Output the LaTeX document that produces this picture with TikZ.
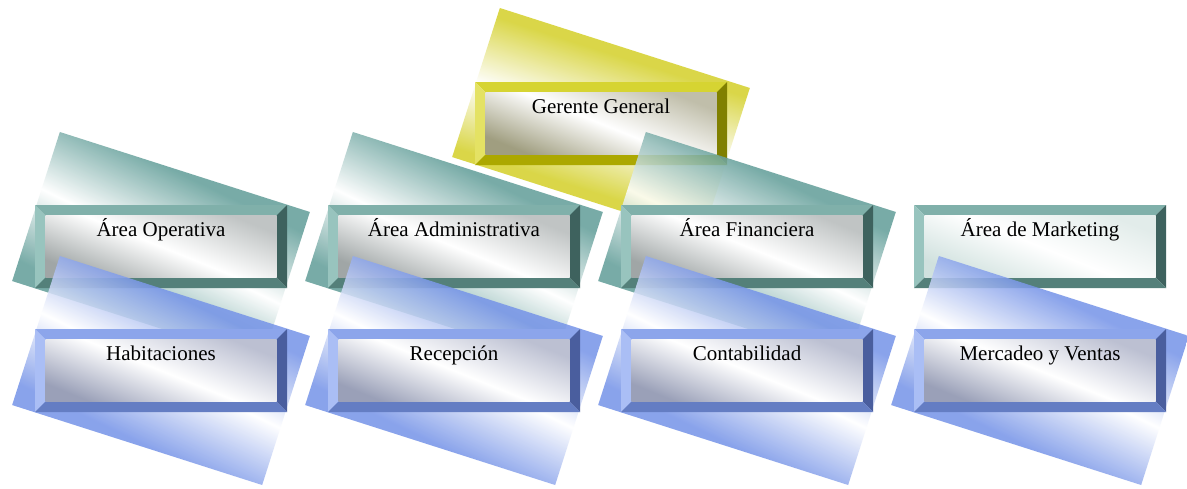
\documentclass[tikz,border=0pt]{standalone}
\usepackage{fontspec}
\setmainfont{Liberation Serif}
\usetikzlibrary{calc}
\pgfdeclarelayer{bg}
\pgfsetlayers{bg,main}

% colours of the tilted back shapes
\definecolor{shY}{RGB}{212,208,42}
\definecolor{shT}{RGB}{98,158,153}
\definecolor{shB}{RGB}{118,148,232}
% bevel palettes: T top, L left, R right, B bottom
\definecolor{yT}{RGB}{214,212,50}
\definecolor{yL}{RGB}{228,226,100}
\definecolor{yR}{RGB}{128,128,0}
\definecolor{yB}{RGB}{172,168,0}
\definecolor{tT}{RGB}{128,176,170}
\definecolor{tL}{RGB}{152,196,190}
\definecolor{tR}{RGB}{62,98,94}
\definecolor{tB}{RGB}{84,128,122}
\definecolor{bT}{RGB}{140,165,235}
\definecolor{bL}{RGB}{170,190,245}
\definecolor{bR}{RGB}{74,94,158}
\definecolor{bB}{RGB}{100,125,195}
% inner faces: I lower colour, J upper colour
\definecolor{yI}{RGB}{160,158,128}
\definecolor{yJ}{RGB}{192,190,170}
\definecolor{gI}{RGB}{160,166,166}
\definecolor{gJ}{RGB}{192,196,196}
\definecolor{kI}{RGB}{154,160,184}
\definecolor{kJ}{RGB}{188,192,210}
\definecolor{mI}{RGB}{208,225,222}
\definecolor{mJ}{RGB}{226,236,234}

\pgfdeclareverticalshading{backY}{100bp}{color(0bp)=(shY); color(28bp)=(shY); color(50bp)=(white); color(72bp)=(shY); color(100bp)=(shY)}
\pgfdeclareverticalshading{backT}{100bp}{color(0bp)=(shT); color(28bp)=(shT); color(50bp)=(white); color(72bp)=(shT); color(100bp)=(shT)}
\pgfdeclareverticalshading{backB}{100bp}{color(0bp)=(shB); color(28bp)=(shB); color(50bp)=(white); color(72bp)=(shB); color(100bp)=(shB)}

\tikzset{
  boxnode/.style={minimum width=252pt, minimum height=83pt, inner sep=0pt, outer sep=0pt, draw=none},
  boxtext/.style={anchor=base, inner sep=0pt, font=\fontsize{21}{25}\selectfont},
  conn/.style={draw=black, line width=1.6pt},
}

% #1 name, #2 cx, #3 cy, #4 bevel palette, #5 inner palette, #6 text
\newcommand\bbox[6]{%
  \pgfmathsetmacro\xa{#2-126}\pgfmathsetmacro\xb{#2+126}%
  \pgfmathsetmacro\ya{#3-41.5}\pgfmathsetmacro\yb{#3+41.5}%
  \pgfmathsetmacro\xc{#2-115.5}\pgfmathsetmacro\xd{#2+115.5}%
  \pgfmathsetmacro\yc{#3-31}\pgfmathsetmacro\yd{#3+31}%
  \pgfmathsetmacro\yt{#3-10.5}%
  \fill[#4T] (\xa,\ya) -- (\xb,\ya) -- (\xd,\yc) -- (\xc,\yc) -- cycle;
  \fill[#4L] (\xa,\ya) -- (\xc,\yc) -- (\xc,\yd) -- (\xa,\yb) -- cycle;
  \fill[#4R] (\xb,\ya) -- (\xb,\yb) -- (\xd,\yd) -- (\xd,\yc) -- cycle;
  \fill[#4B] (\xa,\yb) -- (\xb,\yb) -- (\xd,\yd) -- (\xc,\yd) -- cycle;
  \shade[bottom color=#5I, top color=#5J, middle color=white, shading angle=-22] (\xc,\yc) rectangle (\xd,\yd);
  \node[boxnode] (#1) at (#2,#3) {};
  \node[boxtext] (#1-t) at (#2,\yt) {#6};
}
% tilted back shape: #1 cx, #2 cy, #3 shading, #4 extra tilt
\newcommand\rshape[4]{%
  \begin{scope}[transform canvas={shift={(#1,#2)}, rotate=-17.74}]
    \shade[shading=#3, shading angle=#4, fill opacity=0.86] (-131.25,-78.25) rectangle (131.25,78.25);
  \end{scope}
}

\begin{document}
\begin{tikzpicture}[x=1pt, y=-1pt]
\fill[white] (0,0) rectangle (1187,488);
\useasboundingbox (0,0) rectangle (1187,488);

% level 0
\rshape{601}{122.5}{backY}{0}
\bbox{g}{601}{123.5}{y}{y}{Gerente General}

% level 1
\rshape{161}{246.5}{backT}{-8}
\rshape{454}{246.5}{backT}{-8}
\rshape{747}{246.5}{backT}{-8}
\bbox{op}{161}{246.5}{t}{g}{Área Operativa}
\bbox{ad}{454}{246.5}{t}{g}{Área Administrativa}
\bbox{fi}{747}{246.5}{t}{g}{Área Financiera}
\bbox{mk}{1040}{246.5}{t}{m}{Área de Marketing}

% level 2
\rshape{161}{370.5}{backB}{-8}
\rshape{454}{370.5}{backB}{-8}
\rshape{747}{370.5}{backB}{-8}
\rshape{1040}{370.5}{backB}{-8}
\bbox{ha}{161}{370.5}{b}{k}{Habitaciones}
\bbox{re}{454}{370.5}{b}{k}{Recepción}
\bbox{co}{747}{370.5}{b}{k}{Contabilidad}
\bbox{me}{1040}{370.5}{b}{k}{Mercadeo y Ventas}

% connectors underneath
\begin{pgfonlayer}{bg}
\draw[conn] (g.south) |- ($(op.north)+(0,-20)$) -- (op.north);
\draw[conn] (g.south) |- ($(ad.north)+(0,-20)$) -- (ad.north);
\draw[conn] (g.south) |- ($(fi.north)+(0,-20)$) -- (fi.north);
\draw[conn] (g.south) |- ($(mk.north)+(0,-20)$) -- (mk.north);
\draw[conn] (op.south) -- (ha.north);
\draw[conn] (ad.south) -- (re.north);
\draw[conn] (fi.south) -- (co.north);
\draw[conn] (mk.south) -- (me.north);
\end{pgfonlayer}
\end{tikzpicture}
\end{document}
